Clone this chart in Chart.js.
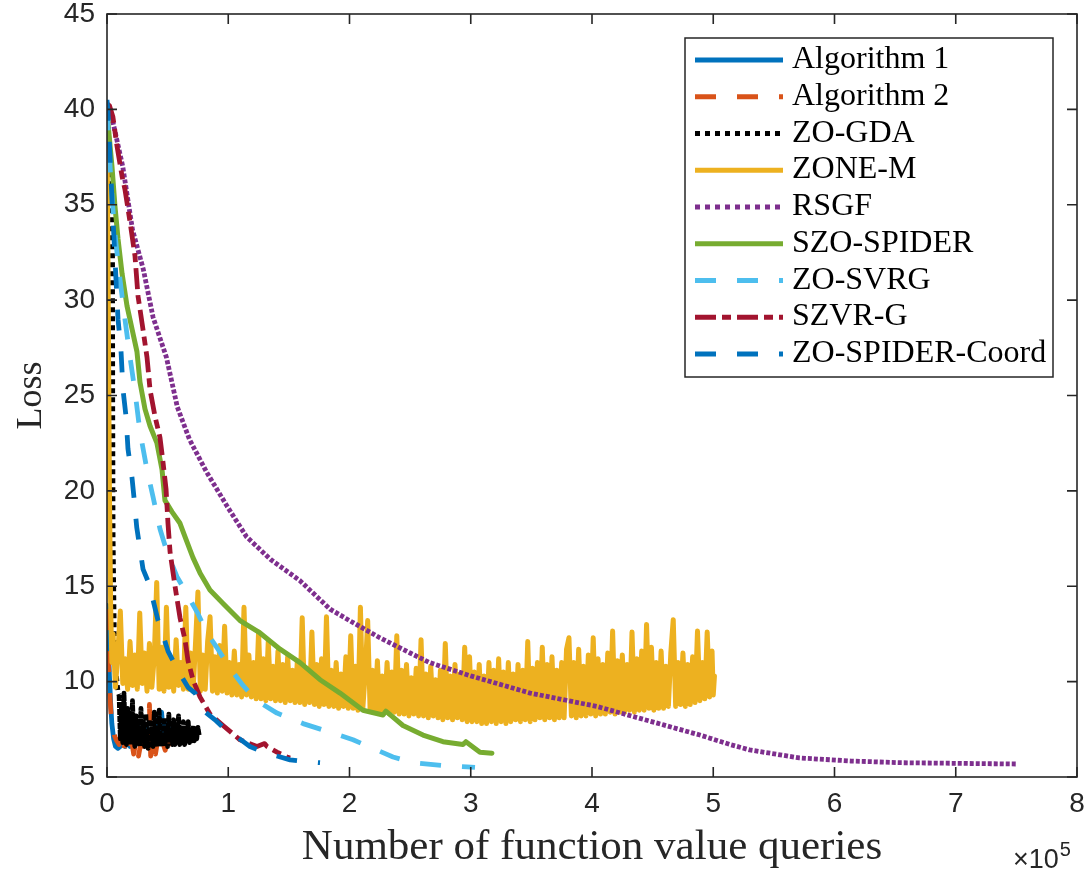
<!DOCTYPE html>
<html>
<head>
<meta charset="utf-8">
<script src="https://cdn.jsdelivr.net/npm/chart.js@4.4.1/dist/chart.umd.min.js"></script>
<style>
html,body{margin:0;padding:0;background:#ffffff;}
#c{display:block;}
</style>
</head>
<body>
<canvas id="c" width="1086" height="871"></canvas>
<script>
// ---------- data (x in units of 1e5 function value queries) ----------
const xTicks = [0, 1, 2, 3, 4, 5, 6, 7, 8];
const yTicks = [5, 10, 15, 20, 25, 30, 35, 40, 45];
const seriesNames = ['Algorithm 1', 'Algorithm 2', 'ZO-GDA', 'ZONE-M', 'RSGF', 'SZO-SPIDER', 'ZO-SVRG', 'SZVR-G', 'ZO-SPIDER-Coord'];

const alg1X = [0, 0.01, 0.02, 0.03, 0.04, 0.055, 0.07, 0.09, 0.11, 0.13, 0.15, 0.17, 0.19, 0.21, 0.23, 0.25, 0.27, 0.29, 0.31, 0.33, 0.35, 0.37, 0.39, 0.41, 0.43, 0.45, 0.47, 0.49, 0.51, 0.53, 0.55];
const alg1Y = [14.0, 12.0, 10.3, 8.9, 7.8, 7.0, 6.6, 6.5, 6.6, 7.2, 6.6, 7.8, 6.6, 7.4, 6.7, 7.9, 6.7, 7.3, 6.8, 7.6, 6.8, 7.2, 6.9, 8.0, 6.8, 8.4, 6.9, 7.8, 7.0, 7.5, 7.1];

const alg2X = [0, 0.01, 0.02, 0.03, 0.04, 0.06, 0.08, 0.10, 0.12, 0.14, 0.16, 0.18, 0.20, 0.22, 0.24, 0.26, 0.28, 0.30, 0.32, 0.34, 0.35, 0.36, 0.38, 0.40, 0.42, 0.44, 0.46, 0.48, 0.50, 0.52];
const alg2Y = [13.8, 11.5, 9.8, 8.6, 7.8, 7.2, 6.9, 6.7, 7.4, 6.5, 7.1, 6.3, 7.0, 6.2, 6.9, 6.1, 6.8, 6.1, 7.3, 6.0, 8.8, 6.1, 6.9, 6.2, 7.0, 6.3, 6.8, 6.4, 6.9, 6.6];

const gdaX = [0, 0.03, 0.045, 0.047, 0.05, 0.06, 0.075, 0.09,
  0.10, 0.11, 0.12, 0.13, 0.14, 0.15, 0.16, 0.17, 0.18, 0.19,
  0.20, 0.21, 0.22, 0.23, 0.24, 0.25, 0.26, 0.27, 0.28, 0.29,
  0.30, 0.31, 0.32, 0.33, 0.34, 0.35, 0.36, 0.37, 0.38, 0.39,
  0.40, 0.41, 0.42, 0.43, 0.44, 0.45, 0.46, 0.47, 0.48, 0.49,
  0.50, 0.51, 0.52, 0.53, 0.54, 0.55, 0.56, 0.57, 0.58, 0.59,
  0.60, 0.61, 0.62, 0.63, 0.64, 0.65, 0.66, 0.67, 0.68, 0.69,
  0.70, 0.71, 0.72, 0.73, 0.74, 0.75, 0.76];
const gdaY = [40.0, 37.0, 34.6, 25.0, 17.6, 12.5, 10.5, 9.5,
  9.3, 7.0, 8.8, 6.8, 9.4, 7.3, 6.7, 8.6, 6.9, 8.1,
  6.7, 9.0, 7.1, 6.6, 8.2, 6.8, 7.6, 6.6, 8.6, 6.9,
  7.9, 6.6, 8.3, 7.0, 6.5, 8.0, 6.7, 7.7, 6.6, 8.4,
  6.8, 7.5, 6.6, 8.5, 6.9, 7.2, 6.6, 8.1, 6.8, 7.6,
  6.6, 8.3, 6.9, 7.4, 6.7, 8.0, 6.7, 7.6, 6.8, 8.2,
  6.7, 7.4, 6.8, 7.9, 6.7, 7.5, 6.9, 7.9, 6.8, 7.3,
  6.9, 7.7, 6.9, 7.5, 7.0, 7.6, 7.2];

const zoneX = [0, 0.01, 0.02, 0.03, 0.04,
  0.05, 0.07, 0.09, 0.11, 0.13, 0.15, 0.17, 0.19, 0.21, 0.23,
  0.25, 0.27, 0.29, 0.31, 0.33, 0.35, 0.37, 0.39, 0.41, 0.43,
  0.45, 0.47, 0.49, 0.51, 0.53, 0.55, 0.57, 0.59, 0.61, 0.63,
  0.65, 0.67, 0.69, 0.71, 0.73, 0.75, 0.77, 0.79, 0.81, 0.83,
  0.85, 0.87, 0.89, 0.91, 0.93, 0.95, 0.97, 0.99, 1.01, 1.03,
  1.05, 1.07, 1.09, 1.11, 1.13, 1.15, 1.17, 1.19, 1.21, 1.23,
  1.25, 1.27, 1.29, 1.31, 1.33, 1.35, 1.37, 1.39, 1.41, 1.43,
  1.45, 1.47, 1.49, 1.51, 1.53, 1.55, 1.57, 1.59, 1.61, 1.63,
  1.65, 1.67, 1.69, 1.71, 1.73, 1.75, 1.77, 1.79, 1.81, 1.83,
  1.85, 1.87, 1.89, 1.91, 1.93, 1.95, 1.97, 1.99, 2.01, 2.03,
  2.05, 2.07, 2.09, 2.11, 2.13, 2.15, 2.17, 2.19, 2.21, 2.23,
  2.25, 2.27, 2.29, 2.31, 2.33, 2.35, 2.37, 2.39, 2.41, 2.43,
  2.45, 2.47, 2.49, 2.51, 2.53, 2.55, 2.57, 2.59, 2.61, 2.63,
  2.65, 2.67, 2.69, 2.71, 2.73, 2.75, 2.77, 2.79, 2.81, 2.83,
  2.85, 2.87, 2.89, 2.91, 2.93, 2.95, 2.97, 2.99, 3.01, 3.03,
  3.05, 3.07, 3.09, 3.11, 3.13, 3.15, 3.17, 3.19, 3.21, 3.23,
  3.25, 3.27, 3.29, 3.31, 3.33, 3.35, 3.37, 3.39, 3.41, 3.43,
  3.45, 3.47, 3.49, 3.51, 3.53, 3.55, 3.57, 3.59, 3.61, 3.63,
  3.65, 3.67, 3.69, 3.71, 3.73, 3.75, 3.77, 3.79, 3.81, 3.83,
  3.85, 3.87, 3.89, 3.91, 3.93, 3.95, 3.97, 3.99, 4.01, 4.03,
  4.05, 4.07, 4.09, 4.11, 4.13, 4.15, 4.17, 4.19, 4.21, 4.23,
  4.25, 4.27, 4.29, 4.31, 4.33, 4.35, 4.37, 4.39, 4.41, 4.43,
  4.45, 4.47, 4.49, 4.51, 4.53, 4.55, 4.57, 4.59, 4.61, 4.63,
  4.65, 4.67, 4.69, 4.71, 4.73, 4.75, 4.77, 4.79, 4.81, 4.83,
  4.85, 4.87, 4.89, 4.91, 4.93, 4.95, 4.97, 4.99, 5.00, 5.01];
const zoneY = [39.5, 30.0, 20.0, 14.0, 11.0,
  12.5, 9.7, 11.6, 13.7, 9.9, 11.2, 9.6, 12.1, 9.8, 11.4,
  9.6, 13.6, 9.9, 11.5, 9.5, 12.0, 9.7, 11.3, 15.2, 9.6,
  11.8, 9.5, 13.9, 9.7, 11.2, 9.5, 12.2, 9.8, 11.0, 9.6,
  13.9, 9.6, 11.5, 9.5, 12.0, 14.7, 9.5, 11.4, 9.6, 12.1,
  13.4, 9.5, 11.3, 9.4, 11.9, 9.5, 12.9, 9.4, 11.0, 9.3,
  11.6, 9.3, 10.9, 9.2, 13.9, 9.3, 11.4, 9.2, 11.0, 9.1,
  12.6, 9.1, 11.2, 9.0, 12.1, 9.1, 10.8, 9.0, 11.6, 9.0,
  10.9, 8.9, 11.3, 9.0, 10.6, 8.9, 11.1, 8.9, 13.35, 8.8,
  10.7, 8.9, 12.6, 8.8, 10.9, 8.7, 11.2, 8.8, 13.4, 8.7,
  10.6, 8.7, 11.0, 8.6, 10.4, 8.7, 11.3, 8.6, 12.4, 8.6,
  10.8, 8.5, 13.9, 8.6, 10.5, 13.2, 8.5, 10.6, 8.4, 11.1,
  8.4, 10.3, 8.5, 11.0, 8.3, 10.5, 8.4, 12.4, 8.3, 10.6,
  8.3, 10.9, 8.2, 10.2, 8.3, 10.7, 8.2, 12.2, 8.2, 10.4,
  8.1, 10.8, 8.2, 10.1, 8.1, 10.6, 8.0, 12.0, 8.1, 10.3,
  8.0, 10.9, 8.1, 10.4, 8.0, 11.8, 7.9, 11.3, 7.9, 10.5,
  7.9, 10.9, 7.8, 10.3, 7.8, 11.0, 7.9, 10.6, 7.8, 11.2,
  7.9, 10.5, 7.8, 11.0, 7.9, 10.4, 8.0, 10.9, 7.9, 10.6,
  8.0, 12.1, 7.9, 10.7, 8.0, 11.0, 8.1, 11.8, 8.0, 10.9,
  8.1, 11.3, 8.0, 10.6, 8.1, 11.0, 8.1, 11.7, 12.3, 8.2,
  11.0, 8.1, 11.7, 8.2, 10.8, 8.2, 11.4, 8.3, 12.3, 8.2,
  11.2, 8.3, 10.9, 8.3, 11.5, 8.4, 12.65, 8.3, 11.1, 8.4,
  11.4, 8.4, 10.9, 8.5, 12.6, 8.4, 11.2, 8.5, 11.6, 8.5,
  13.0, 8.6, 11.8, 8.5, 11.0, 8.6, 11.6, 8.6, 10.8, 8.7,
  11.5, 13.25, 8.7, 11.0, 8.8, 11.5, 8.7, 10.9, 8.8, 11.3,
  8.9, 12.65, 9.0, 11.0, 9.1, 12.6, 9.2, 11.6, 9.3, 10.3];

const rsgfX = [0, 0.05, 0.13, 0.21, 0.30, 0.38, 0.49, 0.58, 0.68, 0.82, 0.99, 1.15, 1.35, 1.59, 1.84, 2.0, 2.25, 2.5, 2.66, 3.0, 3.49, 4.04, 4.59, 4.89, 5.14, 5.30, 5.71, 6.13, 6.54, 6.96, 7.5];
const rsgfY = [40.3, 39.3, 37.0, 33.7, 31.6, 29.1, 27.0, 24.4, 22.7, 21.0, 19.2, 17.6, 16.4, 15.3, 13.8, 13.2, 12.3, 11.5, 11.0, 10.3, 9.4, 8.7, 7.73, 7.2, 6.7, 6.42, 6.0, 5.84, 5.75, 5.72, 5.68];

const szoX = [0, 0.008, 0.041, 0.066, 0.091, 0.124, 0.165, 0.206, 0.247, 0.272, 0.313, 0.355, 0.412, 0.454, 0.478, 0.536, 0.602, 0.643, 0.709, 0.767, 0.849, 0.957, 1.097, 1.262, 1.427, 1.592, 1.757, 1.922, 2.111, 2.276, 2.30, 2.441, 2.606, 2.771, 2.936, 2.96, 3.076, 3.175];
const szoY = [40.0, 39.3, 37.0, 34.9, 33.2, 31.4, 29.7, 28.5, 27.3, 25.7, 24.3, 23.4, 22.5, 21.1, 19.5, 18.9, 18.3, 17.6, 16.5, 15.7, 14.8, 14.1, 13.2, 12.55, 11.7, 11.0, 10.1, 9.4, 8.5, 8.25, 8.45, 7.7, 7.2, 6.85, 6.7, 6.85, 6.3, 6.25];

const svrgX = [0, 0.03, 0.06, 0.107, 0.148, 0.190, 0.231, 0.272, 0.330, 0.379, 0.437, 0.495, 0.577, 0.668, 0.751, 0.825, 0.915, 1.014, 1.122, 1.237, 1.402, 1.617, 1.864, 2.029, 2.194, 2.359, 2.524, 2.771, 2.969, 3.035];
const svrgY = [40.0, 36.5, 33.8, 31.1, 29.0, 27.0, 25.2, 23.1, 21.1, 19.7, 18.0, 16.8, 15.5, 14.5, 13.55, 12.55, 11.7, 10.7, 9.8, 9.0, 8.35, 7.8, 7.3, 6.95, 6.5, 6.05, 5.75, 5.6, 5.53, 5.5];

const szvrX = [0, 0.02, 0.049, 0.082, 0.124, 0.148, 0.190, 0.231, 0.256, 0.289, 0.330, 0.355, 0.396, 0.437, 0.462, 0.487, 0.503, 0.520, 0.561, 0.602, 0.643, 0.668, 0.709, 0.767, 0.849, 0.957, 1.097, 1.237, 1.30, 1.32, 1.402, 1.485, 1.51];
const szvrY = [40.3, 40.2, 39.6, 38.1, 36.5, 35.8, 34.1, 32.3, 30.2, 28.8, 27.0, 25.3, 23.9, 22.8, 21.5, 20.1, 18.3, 16.8, 15.0, 13.35, 12.2, 11.1, 10.1, 9.2, 8.3, 7.7, 6.95, 6.6, 6.75, 6.6, 6.3, 6.05, 6.0];

const coordX = [0, 0.008, 0.025, 0.041, 0.058, 0.074, 0.091, 0.115, 0.132, 0.157, 0.173, 0.206, 0.225, 0.245, 0.297, 0.355, 0.379, 0.421, 0.454, 0.503, 0.544, 0.602, 0.668, 0.726, 0.792, 0.891, 0.957, 1.072, 1.179, 1.287, 1.402, 1.510, 1.649, 1.757];
const coordY = [40.5, 39.9, 37.5, 35.3, 33.2, 31.1, 29.0, 27.4, 25.3, 23.9, 22.2, 20.7, 19.5, 18.1, 15.9, 15.0, 14.3, 13.2, 12.6, 11.6, 11.1, 10.4, 9.7, 9.4, 8.5, 8.0, 7.6, 7.1, 6.6, 6.3, 6.1, 5.9, 5.8, 5.75];

const seriesX = [alg1X, alg2X, gdaX, zoneX, rsgfX, szoX, svrgX, szvrX, coordX];
const seriesY = [alg1Y, alg2Y, gdaY, zoneY, rsgfY, szoY, svrgY, szvrY, coordY];

// ---------- styles ----------
const AXIS = '#262626';
const colors = ['#0072BD', '#D95319', '#000000', '#EDB120', '#7E2F8E', '#77AC30', '#4DBEEE', '#A2142F', '#0072BD'];
const plotDashes = [[], [21, 21], [5, 4], [], [4, 2], [], [21, 21], [21, 6, 9, 6], [21, 21]];
const legendDashes = [[], [21, 21], [5, 5], [], [5, 5], [], [21, 21], [21, 6, 9, 6], [21, 21]];
const widths = [4.8, 4.8, 4.8, 5, 4.8, 5, 4.8, 4.8, 4.8];

const datasets = seriesNames.map((name, i) => {
  const ds = {
    label: name,
    data: seriesX[i].map((x, j) => ({x: x, y: seriesY[i][j]})),
    borderColor: colors[i],
    backgroundColor: colors[i],
    borderWidth: widths[i],
    borderDash: plotDashes[i],
    borderCapStyle: plotDashes[i].length ? 'butt' : 'round',
    borderJoinStyle: 'round',
    showLine: true,
    fill: false,
    tension: 0,
    pointRadius: 0,
    order: seriesNames.length - i
  };
  if (name === 'ZO-GDA') {
    // the dense oscillating part forms a nearly solid cluster
    ds.segment = {borderDash: c => (c.p0DataIndex >= 8 ? [6, 1] : undefined)};
  }
  return ds;
});

const frame = {
  id: 'frame',
  afterDatasetsDraw(chart) {
    const {ctx, chartArea: a, scales} = chart;
    const xs = scales.x, ys = scales.y;
    ctx.save();
    ctx.strokeStyle = AXIS;
    ctx.lineWidth = 1.6;
    ctx.setLineDash([]);
    ctx.strokeRect(a.left, a.top, a.right - a.left, a.bottom - a.top);
    ctx.beginPath();
    xs.ticks.forEach(t => {
      const p = xs.getPixelForValue(t.value);
      ctx.moveTo(p, a.bottom); ctx.lineTo(p, a.bottom - 10);
      ctx.moveTo(p, a.top); ctx.lineTo(p, a.top + 10);
    });
    ys.ticks.forEach(t => {
      const p = ys.getPixelForValue(t.value);
      ctx.moveTo(a.left, p); ctx.lineTo(a.left + 10, p);
      ctx.moveTo(a.right, p); ctx.lineTo(a.right - 10, p);
    });
    ctx.stroke();
    // exponent label
    ctx.fillStyle = AXIS;
    ctx.textBaseline = 'alphabetic';
    ctx.textAlign = 'left';
    ctx.font = '27px "Liberation Sans"';
    ctx.fillText('\u00d710', 1013, 868);
    const w = ctx.measureText('\u00d710').width;
    ctx.font = '20px "Liberation Sans"';
    ctx.fillText('5', 1013 + w + 1, 856);
    ctx.restore();
  },
  afterDraw(chart) {
    const ctx = chart.ctx;
    const L = 685, T = 38, R = 1053, B = 377;
    ctx.save();
    ctx.fillStyle = '#ffffff';
    ctx.fillRect(L, T, R - L, B - T);
    ctx.strokeStyle = AXIS;
    ctx.lineWidth = 1.5;
    ctx.setLineDash([]);
    ctx.strokeRect(L, T, R - L, B - T);
    chart.data.datasets.forEach((ds, i) => {
      const yy = 60 + i * 36.75;
      ctx.beginPath();
      ctx.setLineDash(legendDashes[i]);
      ctx.lineCap = 'butt';
      ctx.lineWidth = 5;
      ctx.strokeStyle = ds.borderColor;
      ctx.moveTo(695, yy);
      ctx.lineTo(783, yy);
      ctx.stroke();
      ctx.setLineDash([]);
      ctx.fillStyle = '#000000';
      ctx.font = '32px "Liberation Serif"';
      ctx.textBaseline = 'alphabetic';
      ctx.textAlign = 'left';
      ctx.fillText(ds.label, 792, yy + 8);
    });
    ctx.restore();
  }
};

Chart.defaults.font.family = '"Liberation Sans", Arial, sans-serif';
Chart.defaults.color = AXIS;

new Chart(document.getElementById('c'), {
  type: 'scatter',
  data: {datasets: datasets},
  options: {
    responsive: false,
    animation: false,
    events: [],
    layout: {padding: {left: 0, right: 9, top: 14, bottom: 0}},
    plugins: {legend: {display: false}, tooltip: {enabled: false}},
    scales: {
      x: {
        type: 'linear', min: 0, max: 8,
        afterBuildTicks: s => { s.ticks = xTicks.map(v => ({value: v})); },
        afterFit: s => { s.height = 94; s.paddingLeft = 0; s.paddingRight = 0; },
        grid: {display: false, drawTicks: false},
        border: {display: false},
        ticks: {font: {size: 28}, color: AXIS, padding: 10, maxRotation: 0, autoSkip: false},
        title: {display: true, text: 'Number of function value queries', color: AXIS,
                font: {family: '"Liberation Serif", serif', size: 43, lineHeight: 1}, padding: {top: 0, bottom: 2}}
      },
      y: {
        type: 'linear', min: 5, max: 45,
        afterBuildTicks: s => { s.ticks = yTicks.map(v => ({value: v})); },
        afterFit: s => { s.width = 107; s.paddingTop = 0; s.paddingBottom = 0; },
        grid: {display: false, drawTicks: false},
        border: {display: false},
        ticks: {font: {size: 28}, color: AXIS, padding: 12, autoSkip: false},
        title: {display: true, text: 'Loss', color: AXIS,
                font: {family: '"Liberation Serif", serif', size: 36, lineHeight: 1}, padding: {top: 14, bottom: 0}}
      }
    }
  },
  plugins: [frame]
});
</script>
</body>
</html>
